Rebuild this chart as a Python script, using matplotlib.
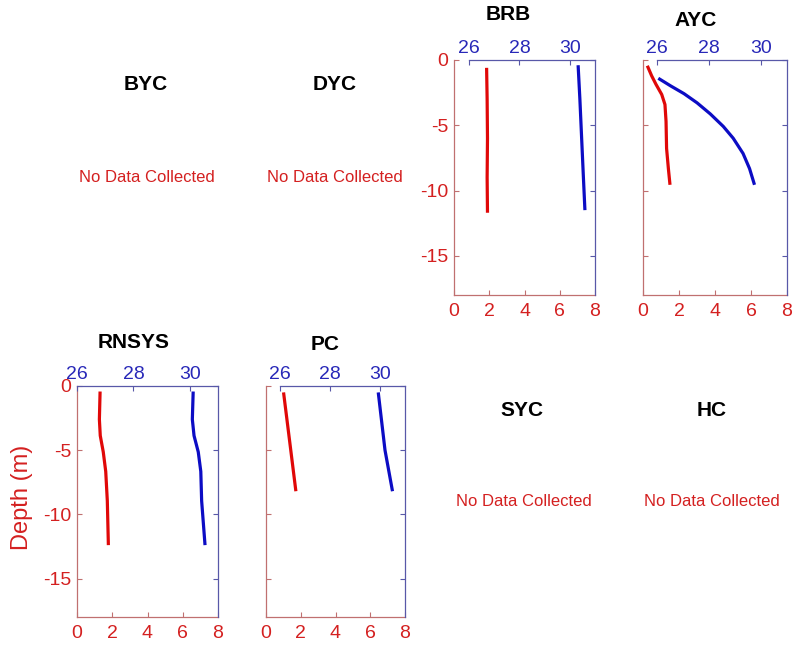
import matplotlib
matplotlib.use("Agg")
import matplotlib.pyplot as plt

plt.rcParams['font.family'] = ['Liberation Sans', 'DejaVu Sans']
plt.rcParams['axes.unicode_minus'] = False

W, H = 793, 648

# ---- data (depth in m, red = bottom axis 0-8, blue = top axis 26-31) ----
brb_red_depth = [-0.6, -3, -6, -9, -11.7]
brb_red_val = [1.85, 1.88, 1.9, 1.88, 1.9]
brb_blue_depth = [-0.4, -3, -6, -9, -11.5]
brb_blue_val = [30.33, 30.4, 30.47, 30.54, 30.6]

ayc_red_depth = [-0.44, -1.21, -1.86, -2.64, -3.41, -4.7, -6.77, -8.32, -9.56]
ayc_red_val = [0.24, 0.48, 0.72, 1.04, 1.22, 1.28, 1.31, 1.41, 1.5]
ayc_blue_depth = [-1.40, -1.99, -2.58, -3.28, -4.13, -5.09, -5.99, -7.16, -8.32, -9.56]
ayc_blue_val = [26.05, 26.53, 27.04, 27.54, 28.05, 28.55, 28.93, 29.31, 29.56, 29.75]

rnsys_red_depth = [-0.43, -2.6, -3.87, -5.14, -6.66, -8.95, -12.4]
rnsys_red_val = [1.31, 1.27, 1.32, 1.49, 1.63, 1.72, 1.78]
rnsys_blue_depth = [-0.43, -2.6, -3.87, -5.14, -6.66, -8.95, -12.4]
rnsys_blue_val = [30.12, 30.09, 30.15, 30.3, 30.39, 30.42, 30.54]

pc_red_depth = [-0.5, -4.4, -8.2]
pc_red_val = [1.01, 1.37, 1.72]
pc_blue_depth = [-0.5, -5, -8.2]
pc_blue_val = [29.93, 30.2, 30.5]

bottom_ticks = [0, 2, 4, 6, 8]
top_ticks = [26, 28, 30]
depth_ticks = [0, -5, -10, -15]

RED = '#e00808'
BLUE = '#0c0cc4'
RED_TXT = '#d42020'
BLUE_TXT = '#2828b8'
RED_SP = '#c07070'
BLUE_SP = '#5858a8'

fig = plt.figure(figsize=(W / 100, H / 100), dpi=100)

def rect(l, t, r, b):
    return [l / W, 1 - b / H, (r - l) / W, (b - t) / H]

def panel(l, t, r, b, off, red_d, red_v, blue_d, blue_v, ylabels, title, tx, ty):
    ax = fig.add_axes(rect(l, t, r, b))
    ax.plot(red_v, red_d, color=RED, lw=2.3, solid_capstyle='butt',
            solid_joinstyle='round')
    ax.set_xlim(0, 8)
    ax.set_ylim(-18, 0)
    ax.set_xticks(bottom_ticks)
    ax.set_yticks(depth_ticks)
    ax.spines['top'].set_visible(False)
    ax.spines['right'].set_visible(False)
    for s in ('left', 'bottom'):
        ax.spines[s].set_color(RED_SP)
        ax.spines[s].set_linewidth(0.9)
    ax.tick_params(direction='in', length=3.5, width=0.8, colors=RED_SP,
                   labelcolor=RED_TXT, labelsize=14, pad=4)
    ax.tick_params(axis='x', pad=6)
    if not ylabels:
        ax.set_yticklabels([])
    ax.patch.set_alpha(0)

    bx = fig.add_axes(rect(l + off, t, r, b))
    bx.plot(blue_v, blue_d, color=BLUE, lw=2.3, solid_capstyle='butt',
            solid_joinstyle='round')
    bx.set_xlim(26, 31)
    bx.set_ylim(-18, 0)
    bx.set_xticks(top_ticks)
    bx.set_yticks(depth_ticks)
    bx.xaxis.tick_top()
    bx.yaxis.tick_right()
    bx.set_yticklabels([])
    bx.spines['left'].set_visible(False)
    bx.spines['bottom'].set_visible(False)
    for s in ('top', 'right'):
        bx.spines[s].set_color(BLUE_SP)
        bx.spines[s].set_linewidth(0.9)
    bx.tick_params(direction='in', length=3.5, width=0.8, colors=BLUE_SP,
                   labelcolor=BLUE_TXT, labelsize=14, pad=2)
    bx.patch.set_alpha(0)
    fig.text(tx / W, 1 - ty / H, title, ha='center', va='center',
             fontsize=15, fontweight='bold', color='black')

# row 1
panel(454, 60, 595, 295, 15, brb_red_depth, brb_red_val,
      brb_blue_depth, brb_blue_val, True, 'BRB', 508, 15)
panel(643, 60, 787, 295, 14, ayc_red_depth, ayc_red_val,
      ayc_blue_depth, ayc_blue_val, False, 'AYC', 696, 21)
# row 2
panel(77, 386, 218, 617, 0, rnsys_red_depth, rnsys_red_val,
      rnsys_blue_depth, rnsys_blue_val, True, 'RNSYS', 134, 343)
panel(266, 386, 405, 617, 14, pc_red_depth, pc_red_val,
      pc_blue_depth, pc_blue_val, False, 'PC', 325, 345)

# empty panels
empty = [('BYC', 146, 84, 147, 178), ('DYC', 335, 84, 335, 178),
         ('SYC', 522, 410, 524, 501), ('HC', 712, 410, 712, 501)]
for name, tx, ty, nx, ny in empty:
    fig.text(tx / W, 1 - ty / H, name, ha='center', va='center',
             fontsize=15, fontweight='bold', color='black')
    fig.text(nx / W, 1 - ny / H, 'No Data Collected', ha='center', va='center',
             fontsize=12, color=RED_TXT)

fig.text(22 / W, 1 - 497 / H, 'Depth (m)', rotation=90, ha='center', va='center',
         fontsize=17, color=RED_TXT)

fig.savefig('out.png', dpi=100, facecolor='white')
